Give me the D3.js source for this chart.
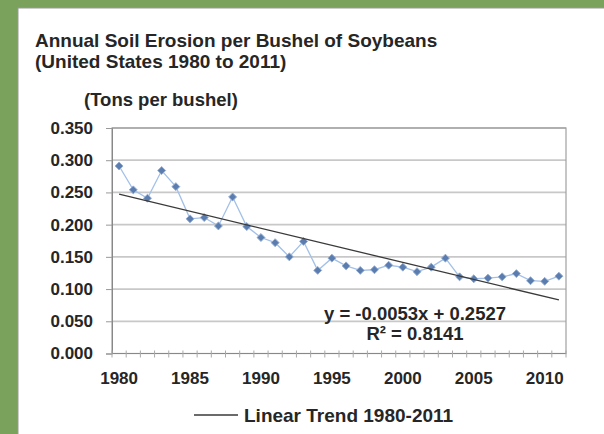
<!DOCTYPE html>
<html>
<head>
<meta charset="utf-8">
<script src="https://cdn.jsdelivr.net/npm/d3@7"></script>
<style>
  html, body { margin: 0; padding: 0; background: #7aa25c; }
  svg { display: block; }
  text { font-family: "Liberation Sans", Arial, sans-serif; font-weight: bold; fill: #262626; }
</style>
</head>
<body>
<svg id="chart" width="604" height="434"></svg>
<script>
// Soil erosion per bushel of soybeans, tons per bushel, 1980-2011
const years = d3.range(1980, 2012);
const erosion = [
  0.291, 0.254, 0.241, 0.284, 0.259, 0.209, 0.211, 0.198, 0.243, 0.197,
  0.180, 0.172, 0.150, 0.174, 0.129, 0.148, 0.136, 0.129, 0.130, 0.137,
  0.134, 0.127, 0.134, 0.148, 0.119, 0.116, 0.117, 0.119, 0.124, 0.113,
  0.112, 0.120
];
const yTicks = [0, 0.05, 0.10, 0.15, 0.20, 0.25, 0.30, 0.35];
const xTickYears = [1980, 1985, 1990, 1995, 2000, 2005, 2010];
// Linear trend y = slope * x + intercept, x = 1 for 1980
const trendSlope = -0.0053;
const trendIntercept = 0.2527;
const trendR2 = 0.8141;

const svg = d3.select("#chart");

// white card
svg.append("rect").attr("x", 18).attr("y", 8).attr("width", 600).attr("height", 440)
  .attr("fill", "#fff").attr("stroke", "#9a9a9a").attr("stroke-width", 1);

const plot = { left: 112, right: 566, top: 128, bottom: 353.5 };

const x = d3.scaleBand().domain(years).range([plot.left, plot.right]).padding(0);
const cx = d => x(d) + x.bandwidth() / 2;
const y = d3.scaleLinear().domain([0, 0.35]).range([plot.bottom, plot.top]);

// titles
svg.append("text").attr("x", 35).attr("y", 47).style("font-size", "19px")
  .text("Annual Soil Erosion per Bushel of Soybeans");
svg.append("text").attr("x", 35).attr("y", 68).style("font-size", "19px")
  .text("(United States 1980 to 2011)");
svg.append("text").attr("x", 84).attr("y", 106).style("font-size", "18.5px")
  .text("(Tons per bushel)");

// gridlines
svg.append("g").selectAll("line").data(yTicks.filter(t => t > 0)).join("line")
  .attr("x1", plot.left).attr("x2", plot.right)
  .attr("y1", d => y(d)).attr("y2", d => y(d))
  .attr("stroke", "#c8c8c8").attr("stroke-width", 1.8);

// plot border
svg.append("rect").attr("x", plot.left).attr("y", plot.top)
  .attr("width", plot.right - plot.left).attr("height", plot.bottom - plot.top)
  .attr("fill", "none").attr("stroke", "#a0a0a0").attr("stroke-width", 1.2);

// y axis
const yAxis = svg.append("g").attr("transform", `translate(${plot.left},0)`)
  .call(d3.axisLeft(y).tickValues(yTicks).tickFormat(d3.format(".3f")).tickSize(6).tickPadding(13));
yAxis.select(".domain").attr("stroke", "#888");
yAxis.selectAll(".tick line").attr("stroke", "#999");
yAxis.selectAll("text").style("font-size", "17px").attr("fill", "#262626");

// x axis: tick marks on category boundaries, labels every five years
const bounds = years.map(d => x(d)).concat([plot.right]);
const xg = svg.append("g");
xg.append("line").attr("x1", plot.left).attr("x2", plot.right)
  .attr("y1", plot.bottom).attr("y2", plot.bottom).attr("stroke", "#888");
xg.selectAll("line.tk").data(bounds).join("line").attr("class", "tk")
  .attr("x1", d => d).attr("x2", d => d)
  .attr("y1", plot.bottom - 3).attr("y2", plot.bottom + 4)
  .attr("stroke", "#aaa");
xg.selectAll("text").data(xTickYears).join("text")
  .attr("x", d => cx(d)).attr("y", 384).attr("text-anchor", "middle")
  .style("font-size", "17px").text(d => d);

// data line and markers
const pts = years.map((yr, i) => ({ yr, v: erosion[i] }));
svg.append("path").datum(pts)
  .attr("d", d3.line().x(d => cx(d.yr)).y(d => y(d.v)))
  .attr("fill", "none").attr("stroke", "#a3c0e8").attr("stroke-width", 1.3);
svg.append("g").selectAll("path").data(pts).join("path")
  .attr("transform", d => `translate(${cx(d.yr)},${y(d.v)})`)
  .attr("d", d3.symbol(d3.symbolDiamond2, 40))
  .attr("fill", "#5a7cae").attr("stroke", "#93acd2").attr("stroke-width", 1);

// trend line
const trend = [years[0], years[years.length - 1]].map(yr => ({ yr, v: trendSlope * (yr - 1979) + trendIntercept }));
svg.append("path").datum(trend)
  .attr("d", d3.line().x(d => cx(d.yr)).y(d => y(d.v)))
  .attr("stroke", "#3a3a3a").attr("stroke-width", 1.3).attr("fill", "none");

// trend equation
svg.append("text").attr("x", 415).attr("y", 320).attr("text-anchor", "middle")
  .style("font-size", "18.5px").text(`y = ${trendSlope}x + ${trendIntercept}`);
svg.append("text").attr("x", 415).attr("y", 340).attr("text-anchor", "middle")
  .style("font-size", "18.5px").text(`R² = ${trendR2}`);

// legend
svg.append("line").attr("x1", 194).attr("x2", 238).attr("y1", 415).attr("y2", 415)
  .attr("stroke", "#3a3a3a").attr("stroke-width", 1.3);
svg.append("text").attr("x", 244).attr("y", 421.5).style("font-size", "19px")
  .text("Linear Trend 1980-2011");
</script>
</body>
</html>
